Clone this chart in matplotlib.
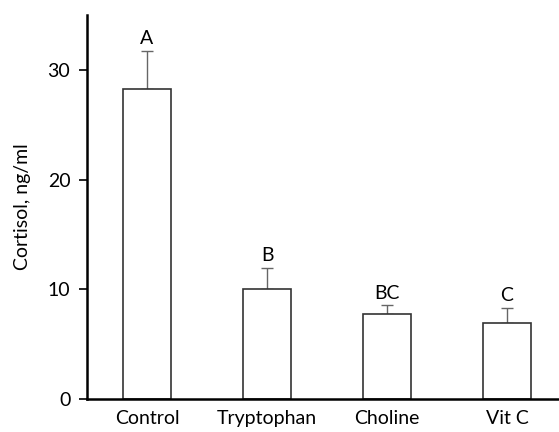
import matplotlib
matplotlib.use('Agg')
import matplotlib.pyplot as plt

# data
groups = ['Control', 'Tryptophan', 'Choline', 'Vit C']
cortisol = [28.25, 10.05, 7.7, 6.9]
sem = [3.5, 1.9, 0.82, 1.4]
letters = ['A', 'B', 'BC', 'C']

plt.rcParams['font.family'] = ['Lato', 'DejaVu Sans']
FS = 14

fig = plt.figure(figsize=(5.59, 4.32), dpi=100)
ax = fig.add_axes([0.1556, 0.077, 0.8444, 0.888])

x = range(len(groups))
ax.bar(x, cortisol, width=0.4, color='white', edgecolor='#333333', linewidth=1.2, zorder=2)
ax.errorbar(x, cortisol, yerr=[[0] * len(sem), sem], fmt='none', ecolor='#666666',
            elinewidth=1.0, capsize=4.5, capthick=1.0, zorder=1)

for xi, v, e, lab in zip(x, cortisol, sem, letters):
    ax.text(xi, v + e + 0.3, lab, ha='center', va='bottom', fontsize=FS)

ax.set_xlim(-0.5, 3.433)
ax.set_ylim(0, 35)
ax.set_yticks([0, 10, 20, 30])
ax.set_xticks(list(x))
ax.set_xticklabels(groups)
ax.set_ylabel('Cortisol, ng/ml', fontsize=FS, labelpad=12)

ax.tick_params(axis='y', direction='out', length=6, width=1.2, labelsize=FS, pad=6)
ax.tick_params(axis='x', length=0, labelsize=FS, pad=8)
ax.spines['top'].set_visible(False)
ax.spines['right'].set_visible(False)
ax.spines['left'].set_linewidth(1.8)
ax.spines['bottom'].set_linewidth(1.8)

fig.savefig('out.png', dpi=100)
